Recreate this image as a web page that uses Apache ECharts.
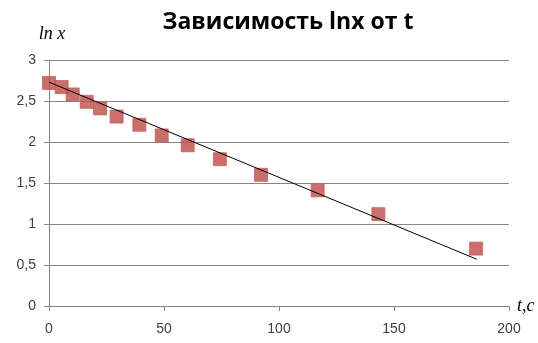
<!DOCTYPE html>
<html>
<head>
<meta charset="utf-8">
<script src="https://cdn.jsdelivr.net/npm/echarts@6/dist/echarts.min.js"></script>
<style>html,body{margin:0;padding:0;background:#fff;}#c{width:538px;height:343px;}</style>
</head>
<body>
<div id="c"></div>
<script>
const titleText = 'Зависимость lnx от t';
const tValues = [0, 5.5, 10.3, 16.4, 22.2, 29.4, 39.3, 49, 60.3, 74.3, 92.2, 116.8, 143.2, 185.7];
const lnxValues = [2.72, 2.67, 2.58, 2.49, 2.41, 2.31, 2.21, 2.08, 1.96, 1.79, 1.60, 1.41, 1.12, 0.70];
const trendT = [0, 186];
const trendY = [2.73, 0.57];
const xTicks = [0, 50, 100, 150, 200];
const yTicks = [0, 0.5, 1, 1.5, 2, 2.5, 3];

const chart = echarts.init(document.getElementById('c'));
chart.setOption({
  animation: false,
  backgroundColor: '#fff',
  title: {
    text: titleText,
    left: 283, top: 6, textAlign: 'center',
    textStyle: { fontFamily: 'Open Sans', fontWeight: 'bold', fontSize: 23, color: '#000' }
  },
  grid: { left: 49, right: 29, top: 60, bottom: 37, containLabel: false },
  xAxis: {
    type: 'value', min: xTicks[0], max: xTicks[xTicks.length - 1], interval: 50,
    name: 't,c', nameLocation: 'end', nameGap: 8,
    nameTextStyle: { fontFamily: 'Liberation Serif', fontStyle: 'italic', fontSize: 18, color: '#000', verticalAlign: 'middle', padding: [0, 0, 4, 0] },
    axisLine: { show: true, onZero: false, lineStyle: { color: '#868686', width: 1 } },
    axisTick: { show: true, inside: false, length: 5, lineStyle: { color: '#868686' } },
    axisLabel: { fontFamily: 'Liberation Sans', fontSize: 14, color: '#404040', margin: 16 },
    splitLine: { show: false }
  },
  yAxis: {
    type: 'value', min: yTicks[0], max: yTicks[yTicks.length - 1], interval: 0.5,
    name: 'ln x', nameLocation: 'end', nameGap: 17,
    nameTextStyle: { fontFamily: 'Liberation Serif', fontStyle: 'italic', fontSize: 18, color: '#000', align: 'center', padding: [0, 0, 0, 6] },
    axisLine: { show: true, lineStyle: { color: '#868686', width: 1 } },
    axisTick: { show: true, inside: false, length: 5, lineStyle: { color: '#868686' } },
    axisLabel: { fontFamily: 'Liberation Sans', fontSize: 14, color: '#404040', margin: 13,
      formatter: v => String(v).replace('.', ',') },
    splitLine: { show: true, lineStyle: { color: '#868686', width: 1 } }
  },
  series: [
    {
      type: 'scatter', symbol: 'rect', symbolSize: 13,
      itemStyle: { color: '#BE4B48', borderColor: '#C7605D', borderWidth: 1 },
      data: tValues.map((t, i) => [t, lnxValues[i]]), z: 2
    },
    {
      type: 'line', symbol: 'none', silent: true,
      lineStyle: { color: '#000', width: 1 },
      data: trendT.map((t, i) => [t, trendY[i]]), z: 3
    }
  ]
});
</script>
</body>
</html>
